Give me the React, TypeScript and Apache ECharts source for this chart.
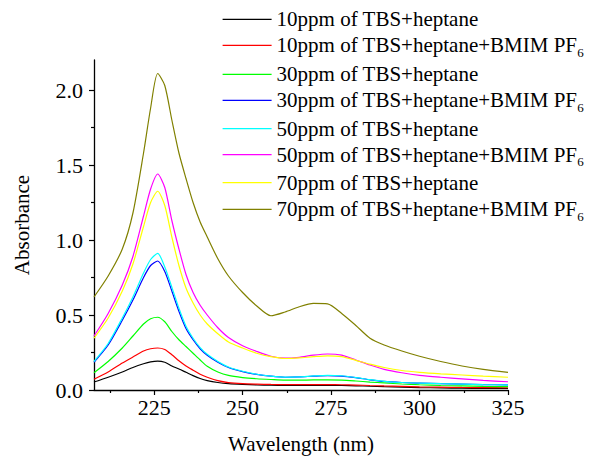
import React, { useEffect, useRef } from "react";
import * as echarts from "echarts";

const wavelengths = [208, 212, 216, 219, 222, 224, 226, 228, 230, 232, 234, 236, 238, 240, 243, 246, 250, 254, 258, 262, 266, 270, 274, 278, 282, 286, 290, 295, 300, 306, 312, 318, 325];

const tbs10Heptane = [0.053, 0.085, 0.12, 0.15, 0.175, 0.188, 0.193, 0.185, 0.16, 0.14, 0.118, 0.096, 0.077, 0.063, 0.05, 0.042, 0.037, 0.034, 0.032, 0.031, 0.031, 0.031, 0.031, 0.03, 0.028, 0.025, 0.022, 0.019, 0.016, 0.014, 0.012, 0.011, 0.01];
const tbs10Bmim = [0.072, 0.12, 0.18, 0.22, 0.26, 0.275, 0.28, 0.27, 0.235, 0.195, 0.16, 0.132, 0.105, 0.085, 0.062, 0.049, 0.042, 0.039, 0.037, 0.036, 0.036, 0.036, 0.036, 0.035, 0.033, 0.03, 0.027, 0.024, 0.021, 0.019, 0.017, 0.016, 0.015];
const tbs30Heptane = [0.115, 0.19, 0.28, 0.36, 0.44, 0.475, 0.485, 0.455, 0.39, 0.335, 0.29, 0.245, 0.2, 0.158, 0.12, 0.097, 0.083, 0.075, 0.07, 0.066, 0.066, 0.067, 0.068, 0.066, 0.06, 0.053, 0.047, 0.04, 0.035, 0.03, 0.027, 0.024, 0.022];
const tbs30Bmim = [0.185, 0.3, 0.465, 0.6, 0.75, 0.83, 0.86, 0.79, 0.66, 0.525, 0.41, 0.335, 0.275, 0.232, 0.185, 0.15, 0.123, 0.104, 0.092, 0.085, 0.087, 0.092, 0.096, 0.093, 0.082, 0.068, 0.057, 0.05, 0.046, 0.042, 0.039, 0.036, 0.034];
const tbs50Heptane = [0.19, 0.31, 0.48, 0.62, 0.78, 0.87, 0.911, 0.82, 0.685, 0.545, 0.425, 0.345, 0.283, 0.238, 0.19, 0.153, 0.125, 0.105, 0.093, 0.086, 0.088, 0.094, 0.098, 0.095, 0.083, 0.069, 0.058, 0.05, 0.046, 0.042, 0.039, 0.036, 0.034];
const tbs50Bmim = [0.36, 0.51, 0.7, 0.89, 1.16, 1.34, 1.44, 1.35, 1.13, 0.94, 0.77, 0.65, 0.565, 0.5, 0.415, 0.35, 0.295, 0.257, 0.225, 0.212, 0.218, 0.232, 0.24, 0.232, 0.2, 0.167, 0.138, 0.115, 0.098, 0.085, 0.074, 0.064, 0.055];
const tbs70Heptane = [0.345, 0.48, 0.66, 0.84, 1.09, 1.25, 1.325, 1.23, 1.02, 0.83, 0.68, 0.58, 0.5, 0.44, 0.375, 0.32, 0.28, 0.245, 0.222, 0.21, 0.214, 0.222, 0.228, 0.222, 0.198, 0.172, 0.15, 0.13, 0.118, 0.108, 0.1, 0.092, 0.085];
const tbs70Bmim = [0.62, 0.76, 0.94, 1.18, 1.58, 1.88, 2.11, 2.03, 1.8, 1.58, 1.41, 1.25, 1.12, 1.02, 0.875, 0.76, 0.65, 0.56, 0.495, 0.52, 0.555, 0.577, 0.574, 0.51, 0.43, 0.345, 0.3, 0.26, 0.225, 0.19, 0.16, 0.137, 0.117];

const seriesNames = [
  "10ppm of TBS+heptane",
  "10ppm of TBS+heptane+BMIM PF₆",
  "30ppm of TBS+heptane",
  "30ppm of TBS+heptane+BMIM PF₆",
  "50ppm of TBS+heptane",
  "50ppm of TBS+heptane+BMIM PF₆",
  "70ppm of TBS+heptane",
  "70ppm of TBS+heptane+BMIM PF₆",
];
const seriesValues = [tbs10Heptane, tbs10Bmim, tbs30Heptane, tbs30Bmim, tbs50Heptane, tbs50Bmim, tbs70Heptane, tbs70Bmim];
const seriesColors = ["#000000", "#ff0000", "#00ff00", "#0000ff", "#00ffff", "#ff00ff", "#ffff00", "#808000"];

const xTickValues = [225, 250, 275, 300, 325];
const xMinorTickValues = [212.5, 237.5, 262.5, 287.5, 312.5];
const yTickValues = [0, 0.5, 1.0, 1.5, 2.0];
const yMinorTickValues = [0.25, 0.75, 1.25, 1.75];

const legendLineY = [23.3, 49.3, 78.3, 104.3, 132.7, 158.7, 186.7, 213.3];

const FONT = "Liberation Serif";

export default function App() {
  const ref = useRef<HTMLDivElement>(null);
  useEffect(() => {
    const chart = echarts.init(ref.current!, null, { renderer: "svg" });
    const series = seriesNames.map((name, k) => ({
      name,
      type: "line",
      xAxisIndex: 0,
      yAxisIndex: 0,
      data: wavelengths.map((w, i) => [w, seriesValues[k][i]]),
      symbol: "none",
      smooth: 0.25,
      lineStyle: { width: 1.2, color: seriesColors[k] },
      itemStyle: { color: seriesColors[k] },
      z: 2 + k,
    }));
    const legends = seriesNames.map((name, k) => ({
      data: [name],
      orient: "vertical",
      left: 222,
      top: legendLineY[k] - 20,
      padding: 0,
      itemWidth: 49,
      itemHeight: 40,
      selectedMode: false,
      formatter: (n: string) => n.replace("₆", "{sub|6}"),
      itemStyle: { opacity: 0 },
      lineStyle: { width: 1.2 },
      textStyle: {
        fontFamily: FONT,
        fontSize: 21,
        color: "#000",
        rich: {
          sub: { fontFamily: FONT, fontSize: 13, color: "#000", verticalAlign: "bottom", padding: [14, 0, 0, 0] },
        },
      },
    }));
    const option: any = {
      animation: false,
      backgroundColor: "#ffffff",
      textStyle: { fontFamily: FONT },
      grid: { left: 94, right: 85, top: 60, bottom: 68, containLabel: false, outerBoundsMode: "none" },
      legend: legends,
      xAxis: [
        {
          type: "value",
          min: 208,
          max: 325,
          position: "bottom",
          name: "Wavelength (nm)",
          nameLocation: "middle",
          nameGap: 43,
          nameTextStyle: { fontFamily: FONT, fontSize: 21, color: "#000" },
          axisLine: { show: true, lineStyle: { color: "#000", width: 1.3 } },
          axisTick: { show: true, customValues: xTickValues, length: 5, inside: false, lineStyle: { color: "#000", width: 1.2 } },
          axisLabel: { show: true, customValues: xTickValues, margin: 6, fontFamily: FONT, fontSize: 22, color: "#000" },
          splitLine: { show: false },
        },
        {
          type: "value",
          min: 208,
          max: 325,
          position: "bottom",
          axisLine: { show: false },
          axisTick: { show: true, customValues: xMinorTickValues, length: 3, inside: false, lineStyle: { color: "#000", width: 1.2 } },
          axisLabel: { show: false },
          splitLine: { show: false },
        },
      ],
      yAxis: [
        {
          type: "value",
          min: 0,
          max: 2.2,
          position: "left",
          name: "Absorbance",
          nameLocation: "middle",
          nameGap: 62,
          nameTextStyle: { fontFamily: FONT, fontSize: 21, color: "#000" },
          axisLine: { show: true, lineStyle: { color: "#000", width: 1.3 } },
          axisTick: { show: true, customValues: yTickValues, length: 5, inside: false, lineStyle: { color: "#000", width: 1.2 } },
          axisLabel: {
            show: true,
            customValues: yTickValues,
            margin: 11,
            fontFamily: FONT,
            fontSize: 22,
            color: "#000",
            formatter: (v: number) => v.toFixed(1),
          },
          splitLine: { show: false },
        },
        {
          type: "value",
          min: 0,
          max: 2.2,
          position: "left",
          axisLine: { show: false },
          axisTick: { show: true, customValues: yMinorTickValues, length: 3, inside: false, lineStyle: { color: "#000", width: 1.2 } },
          axisLabel: { show: false },
          splitLine: { show: false },
        },
      ],
      series,
    };
    chart.setOption(option);
    return () => chart.dispose();
  }, []);
  return (
    <div
      ref={ref}
      style={{ position: "fixed", left: 0, top: 0, width: 593, height: 458, background: "#fff" }}
    />
  );
}
